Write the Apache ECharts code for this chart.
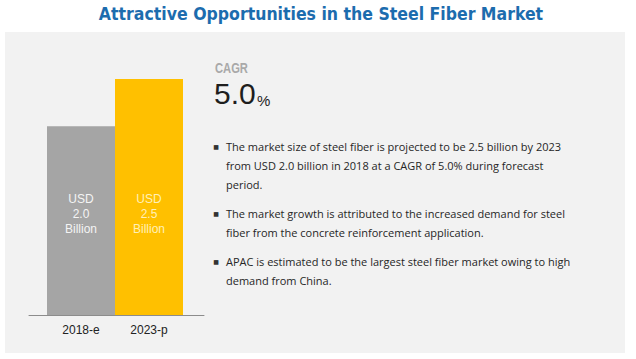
<!DOCTYPE html>
<html>
<head>
<meta charset="utf-8">
<script src="https://cdn.jsdelivr.net/npm/echarts@6/dist/echarts.min.js"></script>
<style>html,body{margin:0;padding:0;background:#fff;}#c{width:636px;height:359px;}</style>
</head>
<body>
<div id="c"></div>
<script>
var titleText = 'Attractive Opportunities in the Steel Fiber Market';
var categories = ['2018-e', '2023-p'];
var values = [2.0, 2.5];
var barColors = ['#a5a5a5', '#ffc000'];
var labelColors = ['#f4f4f4', '#fff0b8'];
var cagrLabel = 'CAGR';
var cagrValue = '5.0';
var bullets = [
  ['The market size of steel fiber is projected to be 2.5 billion by 2023', 'from USD 2.0 billion in 2018 at a CAGR of 5.0% during forecast', 'period.'],
  ['The market growth is attributed to the increased demand for steel', 'fiber from the concrete reinforcement application.'],
  ['APAC is estimated to be the largest steel fiber market owing to high', 'demand from China.']
];

var chart = echarts.init(document.getElementById('c'), null, {renderer: 'svg'});

var graphics = [
  {type: 'rect', z: -10, shape: {x: 5, y: 32, width: 620, height: 321}, style: {fill: '#f2f2f2'}},
  {type: 'text', style: {text: titleText, x: 321, y: 14, textAlign: 'center', textVerticalAlign: 'middle',
    font: 'bold 17.5px "DejaVu Sans Condensed", "DejaVu Sans", sans-serif', fill: '#1c6cae'}},
  {type: 'text', x: 215, y: 76, scaleX: 0.8, style: {text: cagrLabel, x: 0, y: 0, textAlign: 'left', textVerticalAlign: 'bottom',
    font: 'bold 14px "Liberation Sans", Arial, sans-serif', fill: '#a9a9a9'}},
  {type: 'text', style: {text: cagrValue, x: 214, y: 108, textAlign: 'left', textVerticalAlign: 'bottom',
    font: '30px "Liberation Sans", Arial, sans-serif', fill: '#1e1e1e'}},
  {type: 'text', style: {text: '%', x: 257, y: 108, textAlign: 'left', textVerticalAlign: 'bottom',
    font: '15px "Liberation Sans", Arial, sans-serif', fill: '#1e1e1e'}}
];
var y0 = 146;
bullets.forEach(function (lines, bi) {
  graphics.push({type: 'text', style: {text: '\u25A0', x: 216, y: y0, textAlign: 'center', textVerticalAlign: 'middle',
    font: '6px "DejaVu Sans", sans-serif', fill: '#333'}});
  lines.forEach(function (ln, li) {
    graphics.push({type: 'text', style: {text: ln, x: 226, y: y0 + li * 19, textAlign: 'left', textVerticalAlign: 'middle',
      font: '11px "Open Sans", "Liberation Sans", sans-serif', fill: '#262626'}});
  });
  y0 += (lines.length - 1) * 19 + 29;
});

var option = {
  animation: false,
  backgroundColor: '#ffffff',
  graphic: graphics,
  grid: [
    {left: 47, right: 453, top: 79, bottom: 44},
    {left: 29, right: 432, top: 79, bottom: 44}
  ],
  xAxis: [
    {type: 'category', gridIndex: 0, data: categories,
     axisLine: {show: false}, axisTick: {show: false},
     axisLabel: {margin: 9, fontSize: 12, color: '#222', fontFamily: '"Liberation Sans", Arial, sans-serif'}},
    {type: 'category', gridIndex: 1, data: categories,
     axisLine: {show: true, lineStyle: {color: '#8c8c8c', width: 1}}, axisTick: {show: false}, axisLabel: {show: false}}
  ],
  yAxis: [
    {type: 'value', gridIndex: 0, min: 0, max: 2.5, show: false},
    {type: 'value', gridIndex: 1, min: 0, max: 2.5, show: false}
  ],
  series: [{
    type: 'bar', xAxisIndex: 0, yAxisIndex: 0, barCategoryGap: 0,
    data: values.map(function (v, i) {
      return {value: v, itemStyle: {color: barColors[i]}, label: {color: labelColors[i]}};
    }),
    label: {
      show: true, position: 'insideBottom', distance: 79,
      fontSize: 12, lineHeight: 15, fontFamily: '"Liberation Sans", Arial, sans-serif',
      formatter: function (p) { return 'USD\n' + p.value.toFixed(1) + '\nBillion'; }
    }
  }]
};
chart.setOption(option);
</script>
</body>
</html>
